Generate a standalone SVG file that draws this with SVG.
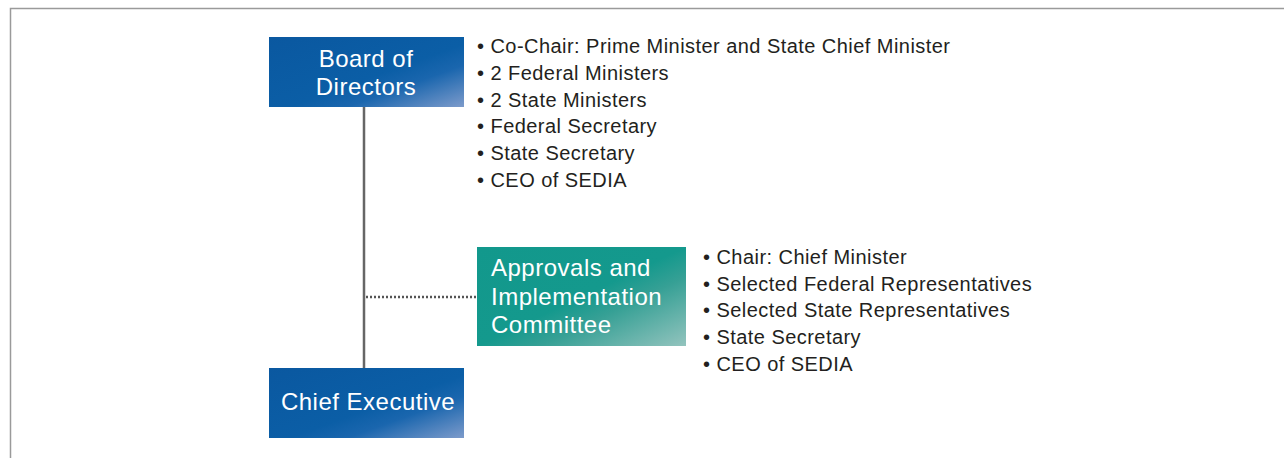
<svg xmlns="http://www.w3.org/2000/svg" width="1284" height="458" viewBox="0 0 1284 458">
<defs>
<linearGradient id="gBlue" x1="0" y1="0" x2="1" y2="1">
<stop offset="0" stop-color="#0a58a0"/>
<stop offset="0.55" stop-color="#0b5ea6"/>
<stop offset="0.7" stop-color="#1a66ae"/>
<stop offset="1" stop-color="#7d9bcb"/>
</linearGradient>
<linearGradient id="gTeal" x1="0" y1="0" x2="1" y2="1">
<stop offset="0" stop-color="#12988c"/>
<stop offset="0.5" stop-color="#14998d"/>
<stop offset="0.65" stop-color="#36a095"/>
<stop offset="1" stop-color="#93c4be"/>
</linearGradient>
<style>
.box{font-family:"Liberation Sans",Arial,sans-serif;font-size:24px;letter-spacing:0.5px;fill:#ffffff;}
.list{font-family:"Liberation Sans",Arial,sans-serif;font-size:20px;letter-spacing:0.45px;fill:#231f20;}
</style>
</defs>
<rect width="1284" height="458" fill="#ffffff"/>
<path d="M10.5 458 V8.5 H1284" fill="none" stroke="#9a9a9a" stroke-width="1.5"/>
<g id="connectors">
<line x1="364" y1="106" x2="364" y2="368" stroke="#666666" stroke-width="2.5"/>
<line x1="366" y1="297" x2="477" y2="297" stroke="#555555" stroke-width="2.5" stroke-dasharray="2 2"/>
</g>
<g id="board">
<rect x="269" y="37" width="195" height="70" fill="url(#gBlue)"/>
<text class="box" x="366" y="67" text-anchor="middle">Board of</text>
<text class="box" x="366" y="95" text-anchor="middle">Directors</text>
</g>
<g id="board-list">
<text class="list" x="477" y="53.3">• Co-Chair: Prime Minister and State Chief Minister</text>
<text class="list" x="477" y="80">• 2 Federal Ministers</text>
<text class="list" x="477" y="106.7">• 2 State Ministers</text>
<text class="list" x="477" y="133.3">• Federal Secretary</text>
<text class="list" x="477" y="160">• State Secretary</text>
<text class="list" x="477" y="186.7">• CEO of SEDIA</text>
</g>
<g id="committee">
<rect x="477" y="247" width="209" height="99" fill="url(#gTeal)"/>
<text class="box" x="491" y="276">Approvals and</text>
<text class="box" x="491" y="305">Implementation</text>
<text class="box" x="491" y="333.3">Committee</text>
</g>
<g id="committee-list">
<text class="list" x="703" y="264">• Chair: Chief Minister</text>
<text class="list" x="703" y="290.7">• Selected Federal Representatives</text>
<text class="list" x="703" y="317.3">• Selected State Representatives</text>
<text class="list" x="703" y="344">• State Secretary</text>
<text class="list" x="703" y="370.7">• CEO of SEDIA</text>
</g>
<g id="ceo">
<rect x="269" y="368" width="195" height="70" fill="url(#gBlue)"/>
<text class="box" x="368" y="410" text-anchor="middle">Chief Executive</text>
</g>
</svg>
